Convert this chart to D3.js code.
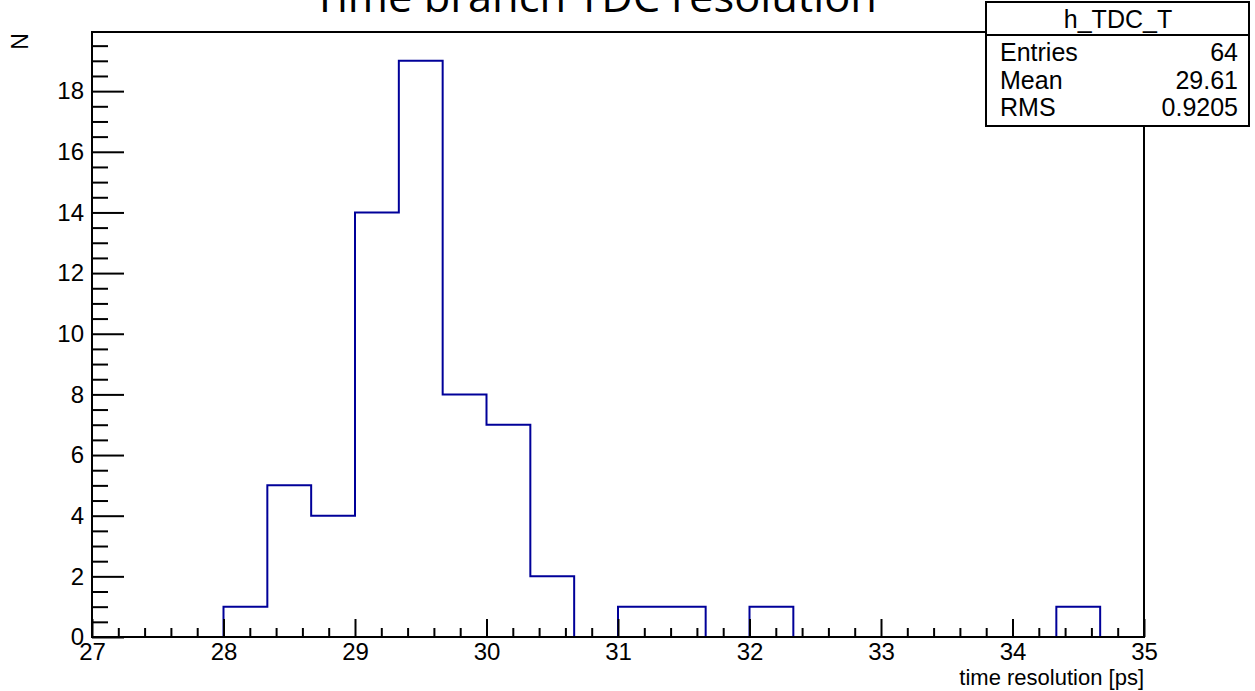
<!DOCTYPE html>
<html>
<head>
<meta charset="utf-8">
<script src="https://cdn.jsdelivr.net/npm/d3@7"></script>
<style>
  body { margin: 0; background: #fff; }
  text { font-family: "Liberation Sans", Arial, sans-serif; fill: #000; }
  .axis path, .axis line { stroke: #000; stroke-width: 2; }
  .axis text { font-size: 24px; }
</style>
</head>
<body>
<script>
const width = 1255;
const height = 691;

// histogram h_TDC_T : 24 bins from 27 to 35
const xMin = 27;
const xMax = 35;
const counts = [0, 0, 0, 1, 5, 4, 14, 19, 8, 7, 2, 0, 1, 1, 0, 1, 0, 0, 0, 0, 0, 0, 1, 0];
const xTicks = [27, 28, 29, 30, 31, 32, 33, 34, 35];
const yTicks = [0, 2, 4, 6, 8, 10, 12, 14, 16, 18];
const statNames = ["Entries", "Mean", "RMS"];
const statValues = ["64", "29.61", "0.9205"];

const frame = { left: 92, right: 1144, top: 32, bottom: 637 };

const svg = d3
  .select("body")
  .append("svg")
  .attr("width", width)
  .attr("height", height);

const x = d3.scaleLinear().domain([xMin, xMax]).range([frame.left, frame.right]);
const y = d3
  .scaleLinear()
  .domain([0, d3.max(counts) * 1.05])
  .range([frame.bottom, frame.top]);

const binW = (xMax - xMin) / counts.length;

// histogram outline as steps
let pts = [[x(xMin), y(0)]];
counts.forEach((c, i) => {
  pts.push([x(xMin + i * binW), y(c)]);
  pts.push([x(xMin + (i + 1) * binW), y(c)]);
});
pts.push([x(xMax), y(0)]);

svg
  .append("path")
  .attr("d", d3.line()(pts))
  .attr("fill", "none")
  .attr("stroke", "#000099")
  .attr("stroke-width", 2);

// minor ticks
const xMinor = d3.range(xMin, xMax + 0.001, 0.2).filter(v => Math.abs(v - Math.round(v)) > 0.01);
const yMinor = d3.range(0, y.domain()[1], 0.5).filter(v => v % 2 !== 0);

svg
  .append("g")
  .attr("class", "axis")
  .attr("transform", `translate(0,${frame.bottom})`)
  .call(d3.axisBottom(x).tickValues(xMinor).tickSize(-9).tickFormat(""))
  .call(g => g.select(".domain").remove());

svg
  .append("g")
  .attr("class", "axis")
  .attr("transform", `translate(${frame.left},0)`)
  .call(d3.axisLeft(y).tickValues(yMinor).tickSize(-16).tickFormat(""))
  .call(g => g.select(".domain").remove());

// major ticks + labels
svg
  .append("g")
  .attr("class", "axis")
  .attr("transform", `translate(0,${frame.bottom})`)
  .call(d3.axisBottom(x).tickValues(xTicks).tickSize(-18).tickPadding(6).tickFormat(d3.format("d")))
  .call(g => g.select(".domain").remove());

svg
  .append("g")
  .attr("class", "axis")
  .attr("transform", `translate(${frame.left},0)`)
  .call(d3.axisLeft(y).tickValues(yTicks).tickSize(-32).tickPadding(8).tickFormat(d3.format("d")))
  .call(g => g.select(".domain").remove());

// frame box
svg
  .append("rect")
  .attr("x", frame.left)
  .attr("y", frame.top)
  .attr("width", frame.right - frame.left)
  .attr("height", frame.bottom - frame.top)
  .attr("fill", "none")
  .attr("stroke", "#000")
  .attr("stroke-width", 2);

// axis titles
svg
  .append("text")
  .attr("x", frame.right)
  .attr("y", 685)
  .attr("text-anchor", "end")
  .style("font-size", "22px")
  .text("time resolution [ps]");

svg
  .append("text")
  .attr("transform", "translate(28,33) rotate(-90)")
  .attr("text-anchor", "end")
  .style("font-size", "23px")
  .text("N");

// title
svg
  .append("text")
  .attr("x", 595)
  .attr("y", 12)
  .attr("text-anchor", "middle")
  .attr("textLength", 564)
  .attr("lengthAdjust", "spacingAndGlyphs")
  .style("font-family", "'Open Sans', 'Noto Sans', sans-serif")
  .style("font-size", "42px")
  .text("Time branch TDC resolution");

// stats box
const box = { left: 986, right: 1249, top: 2, sep: 35, bottom: 126 };
const stats = svg.append("g");
stats
  .append("rect")
  .attr("x", box.left)
  .attr("y", box.top)
  .attr("width", box.right - box.left)
  .attr("height", box.bottom - box.top)
  .attr("fill", "#fff")
  .attr("stroke", "#000")
  .attr("stroke-width", 2);
stats
  .append("line")
  .attr("x1", box.left)
  .attr("x2", box.right)
  .attr("y1", box.sep)
  .attr("y2", box.sep)
  .attr("stroke", "#000")
  .attr("stroke-width", 2);
stats
  .append("text")
  .attr("x", 1118)
  .attr("y", 28)
  .attr("text-anchor", "middle")
  .style("font-size", "25px")
  .text("h_TDC_T");

const rowY = d3.scalePoint().domain(statNames).range([61, 116]);
statNames.forEach((n, i) => {
  stats
    .append("text")
    .attr("x", 1000)
    .attr("y", rowY(n))
    .style("font-size", "25px")
    .text(n);
  stats
    .append("text")
    .attr("x", 1238)
    .attr("y", rowY(n))
    .attr("text-anchor", "end")
    .style("font-size", "25px")
    .text(statValues[i]);
});
</script>
</body>
</html>
